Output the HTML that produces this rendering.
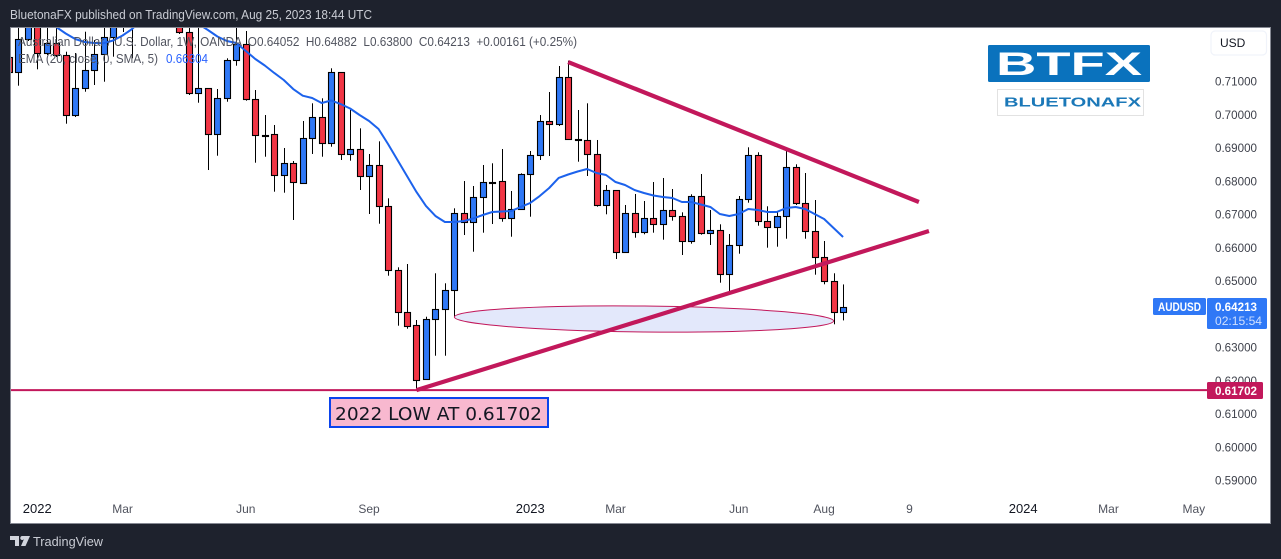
<!DOCTYPE html>
<html>
<head>
<meta charset="utf-8">
<title>AUDUSD weekly chart</title>
<style>
html,body{margin:0;padding:0;width:1281px;height:559px;overflow:hidden;background:#1e222d;}
svg{display:block;font-family:"Liberation Sans",sans-serif;}
</style>
</head>
<body>
<svg id="chart" xmlns="http://www.w3.org/2000/svg" width="1281" height="559" viewBox="0 0 1281 559">
  <defs>
    <clipPath id="plot-clip"><rect x="11" y="28" width="1259" height="495"/></clipPath>
  </defs>
  <rect x="0" y="0" width="1281" height="559" fill="#1e222d"/>
  <text x="10" y="19" font-size="13" fill="#c9ccd4" textLength="362" lengthAdjust="spacingAndGlyphs">BluetonaFX published on TradingView.com, Aug 25, 2023 18:44 UTC</text>
  <rect x="10.5" y="27.5" width="1260" height="496" fill="#ffffff" stroke="#868993" stroke-width="1"/>
  <g id="y-axis"></g>
  <g id="x-axis"></g>
  <g id="plot" clip-path="url(#plot-clip)">
    <g id="candles"></g>
    <path id="ema" fill="none" stroke="#1c62ec" stroke-width="2" stroke-linejoin="round"/>
    <ellipse id="zone" fill="#e3e8fb" stroke="#c2185b" stroke-width="1"/>
    <line id="low-line" stroke="#c2185b" stroke-width="2"/>
    <line id="trend-lower" stroke="#c2185b" stroke-width="4.2"/>
    <line id="trend-upper" stroke="#c2185b" stroke-width="4.2"/>
  </g>

  <g font-size="12.5" fill="#50535e">
    <text x="18" y="46" textLength="559" lengthAdjust="spacingAndGlyphs" xml:space="preserve">Australian Dollar / U.S. Dollar, 1W, OANDA  O0.64052  H0.64882  L0.63800  C0.64213  +0.00161 (+0.25%)</text>
    <text x="18" y="63" textLength="140" lengthAdjust="spacingAndGlyphs">EMA (20, close, 0, SMA, 5)</text>
    <text x="166" y="63" fill="#2962ff" textLength="42" lengthAdjust="spacingAndGlyphs">0.66304</text>
  </g>

  <g>
    <rect x="988" y="45" width="162" height="37" rx="1.5" fill="#0a72bd"/>
    <text x="996" y="75" font-size="32" font-weight="bold" fill="#ffffff" textLength="146" lengthAdjust="spacingAndGlyphs">BTFX</text>
    <rect x="997.5" y="89.5" width="146" height="26" fill="#ffffff" stroke="#e2e2e2"/>
    <text x="1004" y="106.5" font-size="13" font-weight="bold" fill="#1b78b8" textLength="137" lengthAdjust="spacingAndGlyphs">BLUETONAFX</text>
  </g>

  <g>
    <rect x="1211" y="31" width="55.5" height="24" rx="4" fill="#ffffff" stroke="#f0f3fa" stroke-width="1.2"/>
    <text x="1220" y="47" font-size="12" fill="#131722">USD</text>
  </g>

  <g>
    <rect x="1153" y="298" width="53" height="17" rx="1.5" fill="#2f78f6"/>
    <text x="1158" y="311" font-size="12" font-weight="bold" fill="#ffffff" textLength="43" lengthAdjust="spacingAndGlyphs">AUDUSD</text>
  </g>
  <g>
    <rect x="1207" y="298" width="60" height="31" rx="1.5" fill="#2f78f6"/>
    <text x="1215" y="311" font-size="12" font-weight="bold" fill="#ffffff" textLength="42" lengthAdjust="spacingAndGlyphs">0.64213</text>
    <text x="1215" y="325" font-size="12" fill="#cfe0ff" textLength="47" lengthAdjust="spacingAndGlyphs">02:15:54</text>
  </g>
  <g>
    <rect x="1207" y="382" width="56" height="17" rx="1.5" fill="#c2185b"/>
    <text x="1215" y="395" font-size="12" font-weight="bold" fill="#ffffff" textLength="42" lengthAdjust="spacingAndGlyphs">0.61702</text>
  </g>

  <g>
    <rect x="330" y="398" width="218" height="29" fill="#f8b8cf" stroke="#0b43ec" stroke-width="2"/>
    <text x="335" y="420" font-family="'DejaVu Sans',sans-serif" font-size="17.5" fill="#131722" textLength="207" lengthAdjust="spacingAndGlyphs">2022 LOW AT 0.61702</text>
  </g>

  <g>
    <path d="M10 536h9v10h-4v-6h-5z M23 536h7l-4.5 10h-4.5l3-7a2 2 0 1 1-1.500-3z" fill="#d1d4dc"/>
    <text x="33" y="546" font-size="13" fill="#c9ccd4" textLength="70" lengthAdjust="spacingAndGlyphs">TradingView</text>
  </g>
</svg>

<script>
// Weekly bars, first bar sits one slot before the "2022" origin
var firstBar = -1;
var opens = [
0.71731,0.71262,0.72254,0.72985,0.71833,0.72134,0.71773,0.69968,0.70780,0.71322,0.71803,0.72314,
0.73286,0.72684,0.73286,0.72895,0.73376,0.73135,0.73135,0.72465,0.70630,0.70780,0.69397,0.70480,
0.71623,0.72104,0.70450,0.69385,0.69397,0.68164,0.68525,0.67941,0.69277,0.69908,0.69126,0.71262,
0.68796,0.68946,0.68134,0.68465,0.67232,0.65307,0.64044,0.63653,0.62029,0.63833,0.64134,0.64705,
0.67039,0.66750,0.67520,0.67950,0.67984,0.66871,0.67141,0.68194,0.68765,0.69788,0.69698,0.71111,
0.69247,0.69217,0.68796,0.67262,0.67713,0.65848,0.67021,0.66450,0.66871,0.66690,0.67111,0.66931,
0.66179,0.67532,0.66420,0.66510,0.65186,0.66059,0.67442,0.68765,0.66780,0.66600,0.66931,0.68405,
0.67322,0.66480,0.65698,0.64976,0.64052];
var highs = [
0.71932,0.72835,0.73195,0.73195,0.72624,0.72624,0.71881,0.71842,0.72483,0.72233,0.72835,0.73195,
0.73436,0.73436,0.73436,0.73376,0.73436,0.73436,0.73376,0.72835,0.73286,0.70780,0.70759,0.71683,
0.72835,0.72504,0.70729,0.69977,0.69677,0.68985,0.68594,0.69797,0.70329,0.70480,0.71382,0.71262,
0.70128,0.69577,0.68805,0.69186,0.67472,0.65397,0.65496,0.63812,0.63911,0.65217,0.64916,0.67171,
0.67992,0.67842,0.68474,0.68525,0.68955,0.67692,0.68224,0.68895,0.69977,0.70669,0.71451,0.71611,
0.70128,0.70329,0.69226,0.67872,0.67713,0.67271,0.67602,0.67391,0.67962,0.68083,0.67752,0.67051,
0.67593,0.68203,0.67120,0.66690,0.66399,0.67541,0.69006,0.68856,0.67232,0.67069,0.68976,0.68495,
0.68233,0.67421,0.66188,0.65217,0.64882];
var lows = [
0.70880,0.70859,0.72203,0.71352,0.71782,0.71722,0.69716,0.69917,0.70678,0.70880,0.70979,0.71731,
0.72474,0.71683,0.72774,0.72774,0.72895,0.72985,0.72414,0.70579,0.70347,0.68323,0.68753,0.70377,
0.71460,0.70408,0.68543,0.68723,0.67671,0.67641,0.66820,0.67923,0.68805,0.68723,0.69024,0.68624,
0.68603,0.67722,0.67000,0.66708,0.65144,0.63641,0.63550,0.61702,0.62008,0.62738,0.62738,0.63893,
0.66368,0.65866,0.66438,0.66699,0.66768,0.66317,0.67141,0.66919,0.68624,0.68744,0.69647,0.69247,
0.68573,0.68143,0.67220,0.66991,0.65647,0.65848,0.66287,0.66390,0.66438,0.66227,0.66799,0.65767,
0.66107,0.66378,0.66068,0.64934,0.64615,0.65806,0.67340,0.66648,0.65987,0.66017,0.66257,0.67271,
0.66257,0.65175,0.64886,0.63683,0.63800];
var closes = [
0.71271,0.72254,0.72985,0.71833,0.72134,0.71782,0.69968,0.70780,0.71322,0.71803,0.72314,0.72985,
0.72774,0.73286,0.72895,0.73195,0.73135,0.73376,0.72465,0.70630,0.70780,0.69397,0.70480,0.71623,
0.72104,0.70450,0.69367,0.69370,0.68164,0.68525,0.67953,0.69277,0.69908,0.69126,0.71262,0.68796,
0.68946,0.68134,0.68465,0.67232,0.65307,0.64044,0.63641,0.62017,0.63833,0.64134,0.64705,0.67039,
0.66750,0.67520,0.67953,0.67965,0.66871,0.67141,0.68194,0.68765,0.69788,0.69698,0.71111,0.69247,
0.69235,0.68796,0.67262,0.67713,0.65848,0.67021,0.66450,0.66871,0.66690,0.67111,0.66931,0.66179,
0.67532,0.66420,0.66510,0.65186,0.66059,0.67442,0.68765,0.66780,0.66600,0.66931,0.68405,0.67322,
0.66480,0.65698,0.64976,0.64044,0.64213];
var emaValues = [
0.73436,0.73436,0.73436,0.72895,0.72624,0.72429,0.72263,0.72173,0.72143,0.72137,0.72218,0.72368,
0.72564,0.72835,0.73135,0.73286,0.73286,0.73135,0.72985,0.72714,0.72534,0.72338,0.72203,0.72143,
0.71902,0.71662,0.71466,0.71241,0.71030,0.70759,0.70558,0.70489,0.70338,0.70414,0.70308,0.70173,
0.69977,0.69797,0.69556,0.69105,0.68624,0.68143,0.67662,0.67241,0.66940,0.66759,0.66759,0.66789,
0.66865,0.66970,0.67060,0.67075,0.67090,0.67211,0.67331,0.67541,0.67782,0.68083,0.68188,0.68278,
0.68353,0.68233,0.68173,0.67962,0.67872,0.67722,0.67632,0.67556,0.67511,0.67481,0.67361,0.67361,
0.67286,0.67211,0.67000,0.66940,0.67000,0.67150,0.67120,0.67060,0.67060,0.67180,0.67211,0.67150,
0.67000,0.66850,0.66579,0.66308];
var priceTicks = [0.71,0.70,0.69,0.68,0.67,0.66,0.65,0.64,0.63,0.62,0.61,0.60,0.59];
var timeTickBars = [2,11,24,37,54,63,76,85,94,106,115,124];
var timeTickLabels = ["2022","Mar","Jun","Sep","2023","Mar","Jun","Aug","9","2024","Mar","May"];
var yearLabels = ["2022","2023","2024"];
// Drawing anchors in chart units: bar index and price
var lowPrice = 0.61702;
var upperTrendBars = [58,95];
var upperTrendPrices = [0.71571,0.67361];
var lowerTrendBars = [42,96.06];
var lowerTrendPrices = [0.61702,0.66489];
var zoneBars = [46,86];
var zonePrices = [0.63902,0.63782];
var zoneHalfHeightPrice = 0.0039;

var svgNS = "http://www.w3.org/2000/svg";
function xScale(bar){ return 18.3 + 9.48 * bar; }
function yScale(price){ return 81 + (0.71 - price) * 3325; }
function make(tag){ return document.createElementNS(svgNS, tag); }

var candleGroup = document.getElementById("candles");
for (var n = 0; n < opens.length; n++) {
  var barIndex = firstBar + n;
  var candleX = Math.round(xScale(barIndex));
  var rising = closes[n] >= opens[n];
  var wick = make("rect");
  
  
  wick.setAttribute("x", candleX);
  wick.setAttribute("width", 1);
  wick.setAttribute("y", yScale(highs[n]));
  wick.setAttribute("height", Math.max(0, yScale(lows[n]) - yScale(highs[n])));
  wick.setAttribute("fill", "#000000");
  candleGroup.appendChild(wick);
  var bodyTop = Math.round(yScale(Math.max(opens[n], closes[n])));
  var bodyBottom = Math.round(yScale(Math.min(opens[n], closes[n])));
  var body = make("rect");
  
  
  body.setAttribute("x", candleX - 2.5);
  body.setAttribute("width", 6);
  body.setAttribute("y", bodyTop + 0.5);
  body.setAttribute("height", Math.max(1, bodyBottom - bodyTop));
  body.setAttribute("fill", rising ? "#2f78f6" : "#f23645");
  body.setAttribute("stroke", "#000000");
  body.setAttribute("stroke-width", "1.1");
  candleGroup.appendChild(body);
}

var emaPath = "";
for (var e = 0; e < emaValues.length; e++) {
  emaPath += (e === 0 ? "M" : "L") + xScale(e).toFixed(2) + " " + yScale(emaValues[e]).toFixed(2);
}
document.getElementById("ema").setAttribute("d", emaPath);

var lowLine = document.getElementById("low-line");
lowLine.setAttribute("x1", 11);
lowLine.setAttribute("x2", 1208);
lowLine.setAttribute("y1", yScale(lowPrice));
lowLine.setAttribute("y2", yScale(lowPrice));

function placeLine(id, bars, prices){
  var l = document.getElementById(id);
  l.setAttribute("x1", xScale(bars[0]));
  l.setAttribute("y1", yScale(prices[0]));
  l.setAttribute("x2", xScale(bars[1]));
  l.setAttribute("y2", yScale(prices[1]));
}
placeLine("trend-upper", upperTrendBars, upperTrendPrices);
placeLine("trend-lower", lowerTrendBars, lowerTrendPrices);

var zoneEl = document.getElementById("zone");
var zx0 = xScale(zoneBars[0]), zx1 = xScale(zoneBars[1]);
var zy0 = yScale(zonePrices[0]), zy1 = yScale(zonePrices[1]);
var zcx = (zx0 + zx1) / 2, zcy = (zy0 + zy1) / 2;
zoneEl.setAttribute("cx", zcx);
zoneEl.setAttribute("cy", zcy);
zoneEl.setAttribute("rx", (zx1 - zx0) / 2);
zoneEl.setAttribute("ry", zoneHalfHeightPrice * 3325);
zoneEl.setAttribute("transform", "rotate(" + (Math.atan2(zy1 - zy0, zx1 - zx0) * 180 / Math.PI).toFixed(3) + " " + zcx + " " + zcy + ")");

var yAxis = document.getElementById("y-axis");
for (var p = 0; p < priceTicks.length; p++) {
  var priceLabel = make("text");
  
  
  priceLabel.setAttribute("x", 1215);
  priceLabel.setAttribute("y", yScale(priceTicks[p]) + 4.5);
  priceLabel.setAttribute("font-size", "12");
  priceLabel.setAttribute("fill", "#3f424c");
  priceLabel.setAttribute("textLength", "42");
  priceLabel.setAttribute("lengthAdjust", "spacingAndGlyphs");
  priceLabel.textContent = priceTicks[p].toFixed(5);
  yAxis.appendChild(priceLabel);
}

var xAxis = document.getElementById("x-axis");
for (var t = 0; t < timeTickBars.length; t++) {
  var timeLabel = make("text");
  var isYear = yearLabels.indexOf(timeTickLabels[t]) >= 0;
  
  
  timeLabel.setAttribute("x", xScale(timeTickBars[t]));
  timeLabel.setAttribute("y", 513);
  timeLabel.setAttribute("text-anchor", "middle");
  timeLabel.setAttribute("font-size", isYear ? "13" : "12");
  timeLabel.setAttribute("fill", isYear ? "#131722" : "#50535e");
  timeLabel.textContent = timeTickLabels[t];
  xAxis.appendChild(timeLabel);
}
</script>
</body>
</html>
